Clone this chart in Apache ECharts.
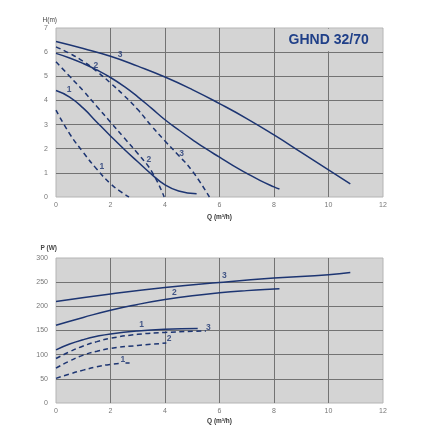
<!DOCTYPE html>
<html><head><meta charset="utf-8">
<script src="https://cdn.jsdelivr.net/npm/echarts@6/dist/echarts.min.js"></script>
<style>html,body{margin:0;background:#fff}#c{width:440px;height:440px}</style>
</head><body><div id="c"></div>
<script>
// ---- Data ----
const chartTitle = 'GHND 32/70';
// Head curves H(m) vs Q (m³/h)
const headSolid1 = [[0,4.41],[0.5,4.14],[1,3.68],[1.5,3.1],[2,2.53],[2.5,1.98],[3,1.46],[3.5,0.95],[4,0.5],[4.5,0.25],[5.16,0.13]];
const headSolid2 = [[0,5.95],[0.5,5.76],[1,5.53],[1.5,5.26],[2,4.95],[2.5,4.58],[3,4.15],[3.5,3.68],[4,3.2],[4.5,2.78],[5,2.38],[5.5,2.0],[6,1.65],[6.5,1.3],[7,0.98],[7.5,0.68],[8,0.42],[8.2,0.33]];
const headSolid3 = [[0,6.44],[1,6.15],[2,5.83],[3,5.42],[4,4.97],[5,4.45],[6,3.87],[7,3.25],[8,2.57],[9,1.85],[10,1.12],[10.8,0.54]];
const headDash1 = [[0,3.6],[0.5,2.62],[1,1.85],[1.5,1.15],[2,0.55],[2.4,0.2],[2.68,0]];
const headDash2 = [[0,5.6],[0.5,5.0],[1,4.4],[1.5,3.75],[2,3.1],[2.5,2.45],[3,1.8],[3.5,1.08],[3.97,0]];
const headDash3 = [[0,6.22],[0.5,5.95],[1,5.62],[1.5,5.2],[2,4.72],[2.5,4.2],[3,3.62],[3.5,2.95],[4,2.32],[4.5,1.72],[5,1.08],[5.63,0]];
const headLabels = [[2.35,5.9,'3'],[1.46,5.44,'2'],[0.48,4.45,'1'],[3.41,1.53,'2'],[4.61,1.78,'3'],[1.68,1.26,'1']];
// Power curves P(W) vs Q (m³/h)
const powerSolid1 = [[0,110],[0.5,122],[1,131],[1.5,138],[2,143],[3,149],[4,152.5],[5.2,154]];
const powerSolid2 = [[0,161],[1,177],[2,192],[3,204],[4,214],[5,222],[6,228],[7,232.5],[8,236],[8.2,236.5]];
const powerSolid3 = [[0,210],[2,225.5],[4,239],[6,249.5],[8,258.5],[10,265.5],[10.8,270]];
const powerDash1 = [[0,51],[0.5,60],[1,68],[1.5,75],[2,80],[2.4,82]];
const powerDash1Tail = [[2.55,83],[2.7,83]];
const powerDash2 = [[0,72],[0.5,87],[1,99],[1.5,107],[2,113],[3,119],[4.05,124]];
const powerDash3 = [[0,92],[0.5,106],[1,118],[1.5,127],[2,134],[3,142],[4,146],[5.5,149]];
const powerLabels = [[4.34,228.5,'2'],[6.18,262.8,'3'],[3.14,162.4,'1'],[5.59,156,'3'],[4.15,133.5,'2'],[2.45,90,'1']];
// Axes
const qMax = 12, qStep = 2;
const hMax = 7, hStep = 1;
const pMax = 300, pStep = 50;
const titleBox = [[8.04,6.04],[11.97,6.97]];

// ---- Styles ----
const navy = '#1d3572';
const bg = '#d4d4d4';
const gridLine = '#737373';

function xAx(gi){
  return {type:'value', gridIndex:gi, min:0, max:qMax, interval:qStep,
    axisLine:{show:false}, axisTick:{show:false},
    axisLabel:{color:'#777', fontSize:7, margin:5, fontFamily:'Arial'},
    splitLine:{show:true, showMinLine:false, showMaxLine:false, lineStyle:{color:gridLine, width:1}},
    name:'Q (m³/h)', nameLocation:'middle', nameGap: gi===0?17:15,
    nameTextStyle:{color:'#333', fontSize:6.5, fontWeight:'bold', fontFamily:'Arial'}};
}
function yAx(gi, max, step, name, gap){
  return {type:'value', gridIndex:gi, min:0, max:max, interval:step,
    axisLine:{show:false}, axisTick:{show:false},
    axisLabel:{color:'#777', fontSize:7, margin:8, fontFamily:'Arial'},
    splitLine:{show:true, showMinLine:false, showMaxLine:false, lineStyle:{color:gridLine, width:1}},
    name:name, nameLocation:'end', nameGap:gap,
    nameTextStyle:{color:'#444', fontSize:6.5, fontWeight: gi===1?'bold':'normal', align:'right', padding:[0,-1,0,0], fontFamily:'Arial'}};
}
function curve(data, gi, dashed){
  return {type:'line', xAxisIndex:gi, yAxisIndex:gi, data:data, smooth:0.5, showSymbol:false, symbol:'none',
    silent:true, lineStyle:{color:navy, width:1.5, type: dashed?[5,3.5]:'solid'}, z:3};
}
function labels(data, gi){
  return {type:'scatter', xAxisIndex:gi, yAxisIndex:gi, data:data, symbolSize:0, silent:true, z:4,
    label:{show:true, position:'inside', formatter:p=>p.value[2], color:navy, fontSize:8.5, fontWeight:'bold', fontFamily:'Arial'}};
}

const lab0 = labels(headLabels, 0);
lab0.markArea = {silent:true, itemStyle:{color:bg, borderWidth:0},
  label:{show:true, position:'inside', formatter:chartTitle, color:'#1f3f88', fontSize:14, fontWeight:'bold', fontFamily:'Arial'},
  data:[[{coord:titleBox[0]},{coord:titleBox[1]}]]};

const chart = echarts.init(document.getElementById('c'), null, {renderer:'canvas'});
chart.setOption({
  animation:false,
  backgroundColor:'#fff',
  grid:[
    {left:56, right:57, top:28, height:169, show:true, backgroundColor:bg, borderColor:'#b4b4b4', borderWidth:1},
    {left:56, right:57, top:258, height:145, show:true, backgroundColor:bg, borderColor:'#b4b4b4', borderWidth:1}
  ],
  xAxis:[xAx(0), xAx(1)],
  yAxis:[yAx(0,hMax,hStep,'H(m)',4), yAx(1,pMax,pStep,'P (W)',6)],
  series:[
    curve(headSolid1,0,false), curve(headSolid2,0,false), curve(headSolid3,0,false),
    curve(headDash1,0,true), curve(headDash2,0,true), curve(headDash3,0,true),
    lab0,
    curve(powerSolid1,1,false), curve(powerSolid2,1,false), curve(powerSolid3,1,false),
    curve(powerDash1,1,true), curve(powerDash1Tail,1,false), curve(powerDash2,1,true), curve(powerDash3,1,true),
    labels(powerLabels,1)
  ]
});
</script></body></html>
